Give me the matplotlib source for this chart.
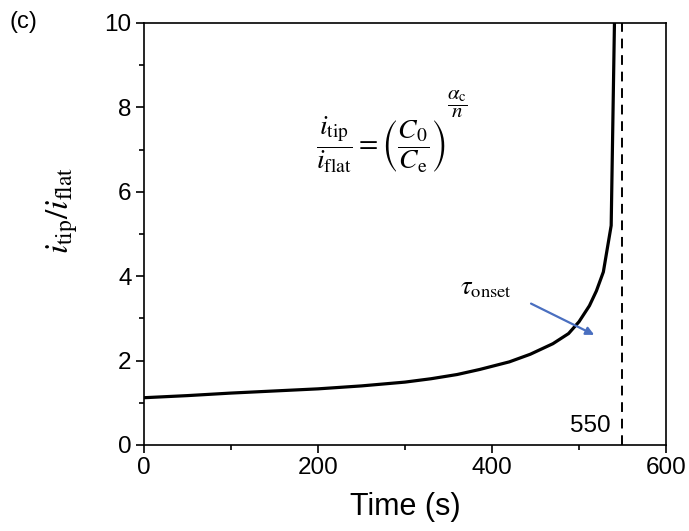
"""
Tip current ratio vs time
"""
import matplotlib.pyplot as plt
from matplotlib.ticker import MultipleLocator

# 讀圖得到的曲線點
time_s = [0, 50, 100, 150, 200, 250, 300, 330, 360, 386, 420, 444, 470, 488, 500, 512, 520, 528, 537, 541]
ratio = [1.12, 1.17, 1.23, 1.28, 1.33, 1.40, 1.49, 1.57, 1.67, 1.79, 1.97, 2.15, 2.40, 2.64, 2.92, 3.30, 3.65, 4.10, 5.20, 10.3]
t_onset = 550
onset_label = '550'

plt.rcParams['font.family'] = ['Liberation Sans', 'DejaVu Sans']
plt.rcParams['mathtext.fontset'] = 'stix'

fig = plt.figure(figsize=(6.89, 5.31), dpi=100)
ax = fig.add_axes([0.209, 0.162, 0.7576, 0.7947])

ax.plot(time_s, ratio, color='black', lw=2.3)
ax.axvline(t_onset, color='black', lw=1.4, ls=(0, (5, 3.5)))

ax.set_xlim(0, 600)
ax.set_ylim(0, 10)
ax.xaxis.set_major_locator(MultipleLocator(200))
ax.xaxis.set_minor_locator(MultipleLocator(100))
ax.yaxis.set_major_locator(MultipleLocator(2))
ax.yaxis.set_minor_locator(MultipleLocator(1))
ax.tick_params(which='major', direction='out', length=6, width=1.2, labelsize=17.5, pad=3)
ax.tick_params(which='minor', direction='out', length=3.5, width=1.2)
for s in ax.spines.values():
    s.set_linewidth(1.2)

ax.set_xlabel('Time (s)', fontsize=22, labelpad=9)
ax.set_ylabel(r'$i_{\rm tip}/i_{\rm flat}$', fontsize=24)
ax.yaxis.set_label_coords(-0.122, 0.557)

# 公式：主體與指數分開畫，指數才不會縮太小
ax.text(272, 7.1, r'$\dfrac{i_{\rm tip}}{i_{\rm flat}} = \left(\dfrac{C_0}{C_{\rm e}}\right)$',
        fontsize=20, ha='center', va='center')
ax.text(360, 8.08, r'$\dfrac{\alpha_{\rm c}}{n}$', fontsize=15, ha='center', va='center')
ax.text(393, 3.72, r'$\tau_{\rm onset}$', fontsize=19, ha='center', va='center')
ax.annotate('', xy=(520.4, 2.58), xytext=(442, 3.38),
            arrowprops=dict(arrowstyle='-|>', color='#4a6fc0', lw=1.6, mutation_scale=12))
ax.text(513, 0.45, onset_label, fontsize=17.5, ha='center', va='center')

fig.text(0.0145, 0.958, '(c)', fontsize=17, ha='left', va='center')

plt.savefig('out.png', dpi=100)
